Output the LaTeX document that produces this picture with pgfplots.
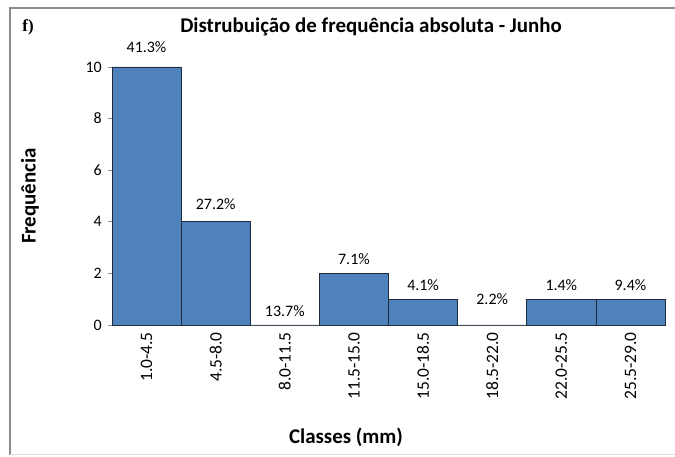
\documentclass[border=0pt]{standalone}
\usepackage{pgfplots}
\pgfplotsset{compat=1.18}
\usepackage{fontspec}
\setmainfont{Carlito}
\newfontfamily\serifb{Liberation Serif}
\definecolor{barblue}{HTML}{4F81BD}
\definecolor{baredge}{HTML}{1F2A3A}
\definecolor{axgray}{HTML}{8C8C8C}
\begin{document}
\begin{tikzpicture}[x=1bp,y=1bp]
\path[use as bounding box] (0,0) rectangle (675,457);
\draw[axgray, line width=1.2bp] (10,2) -- (10,449) -- (675,449);
\draw[black!12, line width=0.8bp] (10,2.5) -- (675,2.5);
\node[font=\serifb\bfseries\fontsize{17}{19}\selectfont] at (28,430) {f)};
\node[font=\bfseries\fontsize{21}{24}\selectfont] at (371,430) {Distrubuição de frequência absoluta - Junho};
\begin{axis}[
  at={(112bp,132bp)}, anchor=south west,
  scale only axis, width=553bp, height=258bp,
  xmin=-0.5, xmax=7.5, ymin=0, ymax=10,
  ytick={0,2,4,6,8,10},
  xtick={0,...,7},
  xticklabels={1.0-4.5,4.5-8.0,8.0-11.5,11.5-15.0,15.0-18.5,18.5-22.0,22.0-25.5,25.5-29.0},
  xticklabel style={rotate=90, anchor=east, font=\fontsize{17.5}{20}\selectfont, inner sep=3bp},
  yticklabel style={font=\fontsize{16}{18}\selectfont, inner sep=6bp},
  /pgf/number format/assume math mode=true,
  axis x line*=bottom, axis y line*=left,
  axis line style={axgray, line width=0.8bp},
  x axis line style={-}, y axis line style={-},
  major x tick style={draw=none},
  major y tick style={axgray, line width=0.8bp},
  tick align=outside, major tick length=4bp,
  ylabel={\bfseries Frequência}, ylabel style={font=\fontsize{21}{24}\selectfont, at={(-82bp,129bp)}, anchor=center, rotate=0},
  xlabel={\bfseries Classes (mm)}, xlabel style={font=\fontsize{21}{24}\selectfont, at={(234bp,-112bp)}, anchor=center},
  clip=false,
]
\addplot[ybar, bar width=1, fill=barblue, draw=baredge, line width=0.6bp, bar shift=0pt]
  coordinates {(0,10) (1,4) (2,0) (3,2) (4,1) (5,0) (6,1) (7,1)};
\node[font=\fontsize{16}{18}\selectfont] at (axis cs:0,10.78) {41.3\%};
\node[font=\fontsize{16}{18}\selectfont] at (axis cs:1,4.7) {27.2\%};
\node[font=\fontsize{16}{18}\selectfont] at (axis cs:2,0.52) {13.7\%};
\node[font=\fontsize{16}{18}\selectfont] at (axis cs:3,2.55) {7.1\%};
\node[font=\fontsize{16}{18}\selectfont] at (axis cs:4,1.55) {4.1\%};
\node[font=\fontsize{16}{18}\selectfont] at (axis cs:5,1.02) {2.2\%};
\node[font=\fontsize{16}{18}\selectfont] at (axis cs:6,1.55) {1.4\%};
\node[font=\fontsize{16}{18}\selectfont] at (axis cs:7,1.55) {9.4\%};
\end{axis}
\end{tikzpicture}
\end{document}
